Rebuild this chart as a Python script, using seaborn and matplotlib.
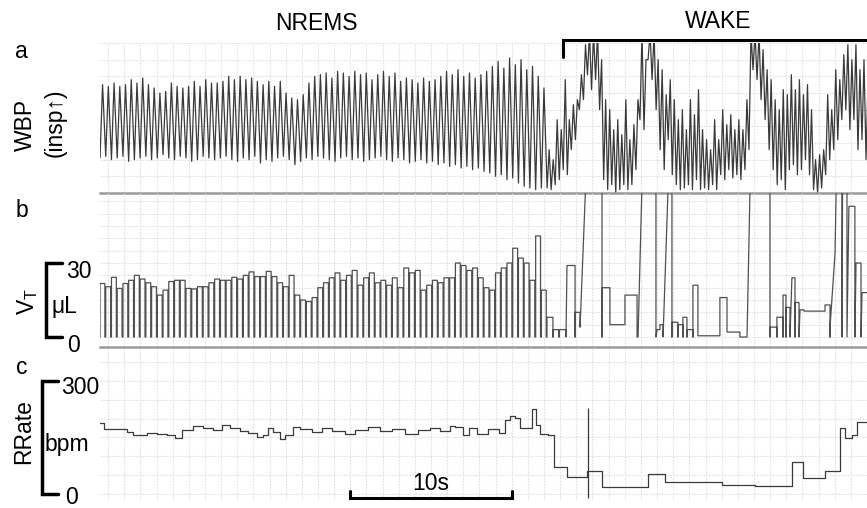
import numpy as np
import matplotlib
matplotlib.use("Agg")
import matplotlib.pyplot as plt
import matplotlib.transforms as mtransforms
import seaborn as sns

# ---- data ----
# NREMS: one entry per breath (regular breathing)
nrem_t0 = -0.5        # s
nrem_period = 0.355   # s per breath
nrem_wbp_peak = [
    6.5, 6.4, 6.6, 6.4, 6.5, 6.8, 6.6, 6.9, 6.5, 6.3,
    6.0, 6.1, 6.6, 6.4, 6.3, 6.4, 6.7, 6.4, 6.8, 6.6,
    6.6, 6.7, 7.0, 6.8, 7.0, 6.8, 6.9, 6.7, 6.5, 6.7,
    6.4, 6.7, 6.0, 5.7, 5.6, 5.9, 6.6, 7.0, 7.1, 7.2,
    6.9, 7.3, 7.2, 7.0, 7.3, 7.1, 7.2, 6.8, 7.1, 7.3,
    7.0, 7.2, 6.7, 6.9, 6.8, 6.6, 6.9, 6.7, 6.8, 7.0,
    7.3, 7.1, 7.4, 7.0, 7.2, 6.9, 7.1, 7.3, 7.6, 7.9,
    7.5, 8.1, 7.7, 8.0, 7.4, 7.6, 7.0, 6.3]
nrem_wbp_trough = [
    2.1, 2.2, 2.0, 2.1, 2.2, 1.9, 2.0, 2.1, 2.2, 2.0,
    2.1, 2.3, 2.1, 2.0, 2.2, 2.1, 1.9, 2.0, 2.2, 2.1,
    2.0, 2.1, 2.2, 2.0, 1.9, 2.1, 2.0, 2.2, 1.8, 2.0,
    1.9, 2.1, 2.2, 2.0, 1.7, 1.9, 2.1, 2.0, 2.2, 2.1,
    2.0, 1.9, 2.1, 2.2, 2.0, 2.1, 1.9, 2.0, 2.1, 2.2,
    2.0, 1.9, 2.1, 2.0, 1.8, 1.9, 2.0, 1.8, 1.9, 1.7,
    1.8, 1.6, 1.7, 1.5, 1.6, 1.4, 1.5, 1.3, 1.2, 1.0,
    1.1, 0.8, 0.9, 0.6, 0.4, 0.3, 0.2, 0.3]
nrem_vt = [
    21.7, 20.4, 24.2, 19.7, 21.7, 23.0, 25.0, 23.5, 22.0, 20.4,
    17.0, 19.0, 22.5, 23.0, 23.0, 19.7, 19.5, 20.4, 20.4, 22.0,
    23.5, 23.0, 23.0, 24.2, 23.5, 25.0, 26.4, 24.5, 24.5, 26.6,
    24.5, 22.0, 20.4, 25.0, 17.0, 15.0, 14.4, 16.0, 20.0, 22.0,
    24.0, 26.0, 23.0, 25.0, 27.0, 21.0, 24.0, 26.0, 22.0, 23.0,
    21.0, 24.0, 20.0, 28.0, 26.0, 27.0, 19.0, 21.0, 23.0, 22.0,
    24.0, 24.0, 30.0, 29.0, 27.0, 28.0, 24.0, 20.0, 19.0, 26.0,
    28.0, 30.0, 36.0, 32.0, 30.0, 23.0, 41.0, 19.0]

# WAKE: WBP one entry per (fast, irregular) cycle
wake_t0 = 27.19
wake_period = 0.25
wake_wbp_peak = [
    2.6, 2.0, 4.4, 3.8, 6.8, 4.4, 5.3, 5.6, 7.1, 8.9,
    9.6, 9.6, 9.6, 8.0, 5.6, 5.0, 3.8, 4.4, 3.5, 5.6,
    3.2, 4.1, 5.6, 9.6, 8.0, 9.6, 9.6, 8.0, 7.4, 5.9,
    6.8, 5.6, 4.4, 5.0, 3.8, 5.6, 4.7, 6.2, 3.8, 3.2,
    2.6, 4.4, 3.2, 5.0, 4.1, 4.7, 3.8, 4.4, 3.8, 5.6,
    9.6, 9.6, 9.6, 8.6, 7.4, 6.8, 5.6, 5.0, 6.2, 5.9,
    7.1, 6.2, 6.8, 5.9, 6.5, 5.0, 2.0, 2.3, 2.6, 5.9,
    5.0, 7.4, 6.8, 8.3, 8.9, 8.0, 8.9, 7.4, 8.0, 6.8]
wake_wbp_trough = [
    0.3, 0.2, 0.5, 0.8, 1.4, 1.1, 2.6, 3.2, 5.0, 5.6,
    7.1, 6.2, 6.8, 5.0, 0.8, 0.2, 0.5, 0.0, 0.2, 0.5,
    0.2, 0.5, 1.4, 4.4, 3.8, 8.0, 6.8, 5.0, 2.6, 1.4,
    3.2, 1.1, 0.5, 0.2, 0.3, 0.5, 0.2, 0.8, 0.2, 0.3,
    0.2, 0.5, 0.2, 1.1, 0.8, 1.4, 0.9, 1.1, 0.8, 1.4,
    2.6, 7.4, 6.8, 5.6, 4.4, 2.6, 1.4, 0.5, 0.8, 0.2,
    1.4, 1.7, 1.1, 1.4, 2.0, 1.1, 0.2, 0.0, 0.3, 1.1,
    2.0, 2.6, 3.2, 4.4, 5.0, 3.8, 4.4, 2.6, 3.2, 2.0]

# WAKE: VT trace vertices (s, uL); big breaths run off scale
wake_vt_time = [
    27.18, 27.18, 27.55, 27.55, 27.55, 27.93, 27.93, 27.93, 28.36, 28.36,
    28.42, 28.92, 28.92, 28.92, 29.23, 29.23, 30.59, 30.59, 30.59, 31.08,
    31.08, 32.01, 32.01, 32.76, 32.76, 32.82, 33.93, 33.93, 34.00, 34.18,
    34.18, 34.37, 34.37, 34.92, 34.92, 34.92, 35.29, 35.29, 35.29, 35.60,
    35.60, 35.60, 35.85, 35.85, 35.85, 36.22, 36.22, 36.22, 36.53, 36.53,
    37.89, 37.89, 38.33, 38.33, 39.13, 39.13, 39.57, 40.99, 40.99, 40.99,
    41.42, 41.42, 41.42, 41.80, 41.80, 41.80, 41.98, 41.98, 41.98, 42.23,
    42.23, 42.35, 42.54, 42.54, 42.54, 42.79, 42.79, 42.85, 43.10, 43.10,
    44.40, 44.40, 44.71, 44.71, 44.71, 45.02, 45.20, 45.20, 45.45, 45.45,
    45.51, 45.76, 45.76, 45.88, 46.25, 46.25, 46.32, 46.63, 46.63, 46.69,
    47.00]
wake_vt_val = [
    0, 8, 8, 0, 3, 3, 0, 3, 3, 0,
    29, 29, 0, 10, 10, 4, 230, 0, 20, 20,
    5, 5, 17, 17, 0, 0, 280, 0, 3, 3,
    5, 5, 0, 107, 0, 6, 6, 0, 5, 5,
    0, 8, 8, 0, 3, 3, 0, 21, 21, 0.5,
    0.5, 16, 16, 2, 2, 0, 0, 460, 0, 4,
    4, 0, 8, 8, 0, 17, 17, 0, 12, 12,
    0, 24, 24, 0, 14, 14, 0, 11, 11, 10.5,
    10.5, 13, 13, 0, 4, 34, 100, 100, 100, 0,
    100, 100, 0, 53, 53, 0, 30, 30, 0, 18,
    18]

# respiratory rate, step trace (start time s, bpm)
rr_time = [
    -0.50, -0.25, 1.18, 1.55, 2.41, 3.03, 3.65, 4.15, 4.58, 5.26,
    5.88, 6.50, 7.06, 7.55, 8.17, 8.67, 9.23, 9.60, 9.91, 10.22,
    10.65, 10.96, 11.46, 11.89, 12.63, 13.25, 13.87, 14.67, 15.29, 16.10,
    16.84, 17.59, 18.39, 19.20, 19.94, 20.56, 21.18, 21.49, 21.98, 22.35,
    22.85, 23.53, 24.21, 24.58, 24.89, 25.20, 25.51, 26.25, 26.50, 26.75,
    27.24, 27.62, 28.42, 29.66, 30.59, 33.44, 34.49, 36.47, 38.02, 40.06,
    42.35, 43.03, 44.40, 45.33, 45.63, 46.07, 46.38, 47.00]
rr_bpm = [
    188, 172, 165, 157, 162, 160, 157, 148, 170, 180,
    174, 170, 183, 176, 168, 162, 152, 157, 175, 165,
    145, 157, 178, 172, 165, 175, 168, 160, 170, 178,
    166, 172, 160, 170, 175, 168, 180, 178, 157, 176,
    160, 172, 162, 197, 207, 202, 176, 225, 183, 159,
    157, 72, 45, 62, 19, 53, 32, 31, 24, 21,
    85, 43, 61, 175, 149, 157, 191, 191]
rr_marker_time = 29.72
rr_marker_range = [-10, 228]

wake_onset = 28.17     # s, start of WAKE bracket
scale_bar = [15, 25]   # s

# ---- build traces ----
t_nrem = nrem_t0 + nrem_period * np.arange(len(nrem_wbp_peak))
t_wake = wake_t0 + wake_period * np.arange(len(wake_wbp_peak))
wbp_t, wbp_v = [], []
for t, lo, hi in zip(t_nrem, nrem_wbp_trough, nrem_wbp_peak):
    wbp_t += [t, t + 0.45 * nrem_period]
    wbp_v += [lo, hi]
for t, lo, hi in zip(t_wake, wake_wbp_trough, wake_wbp_peak):
    wbp_t += [t, t + 0.5 * wake_period]
    wbp_v += [lo, hi]

vt_t, vt_v = [], []
for t, v in zip(t_nrem, nrem_vt):
    t1 = t + 0.85 * nrem_period
    vt_t += [t, t, t1, t1]
    vt_v += [0, v, v, 0]
vt_t += wake_vt_time
vt_v += wake_vt_val

# ---- figure ----
sns.set_theme(style="white")
plt.rcParams["font.family"] = ["Liberation Sans", "DejaVu Sans"]
plt.rcParams["mathtext.fontset"] = "custom"
plt.rcParams["mathtext.rm"] = "Liberation Sans"

W, H = 867, 508
fig = plt.figure(figsize=(W / 100, H / 100), dpi=100)

def fx(px):
    return px / W

def fy(py):
    return 1 - py / H

left, width = fx(100), 1 - fx(100)
ax_a = fig.add_axes([left, fy(193), width, (193 - 43) / H])
ax_b = fig.add_axes([left, fy(347), width, (347 - 193) / H])
ax_c = fig.add_axes([left, fy(500), width, (500 - 347) / H])

trace_col = "#3a3a3a"
sns.lineplot(x=wbp_t, y=wbp_v, sort=False, estimator=None, ax=ax_a,
             color=trace_col, linewidth=0.9)
sns.lineplot(x=vt_t, y=vt_v, sort=False, estimator=None, ax=ax_b,
             color="#505050", linewidth=0.9)
sns.lineplot(x=rr_time, y=rr_bpm, sort=False, estimator=None, ax=ax_c,
             color=trace_col, linewidth=0.9, drawstyle="steps-post")
ax_c.vlines(rr_marker_time, rr_marker_range[0], rr_marker_range[1],
            color=trace_col, linewidth=0.9)

ax_a.set_ylim(0, 9)
ax_b.set_ylim(-4.05, 58.4)
ax_c.set_ylim(-16, 390)
yt = {ax_a: np.arange(0, 10, 1), ax_b: np.arange(0, 60, 5),
      ax_c: np.arange(0, 400, 50)}
for ax in (ax_a, ax_b, ax_c):
    ax.set_xlim(-0.5, 47.0)
    ax.set_xticks(np.arange(0, 48))
    ax.set_yticks(yt[ax])
    ax.grid(True, color="#e0e0e0", linestyle=(0, (1.5, 1.2)), linewidth=0.8)
    ax.set_axisbelow(True)
    ax.tick_params(length=0, labelbottom=False, labelleft=False)
    ax.set_xlabel("")
    ax.set_ylabel("")
    ax.set_facecolor("none")
    for s in ax.spines.values():
        s.set_visible(False)
for ax in (ax_a, ax_b):
    ax.spines["bottom"].set_visible(True)
    ax.spines["bottom"].set_color("#9a9a9a")
    ax.spines["bottom"].set_linewidth(1.8)

fs = 16.5
txt = dict(color="black", fontsize=fs, ha="center", va="center")

# state labels and WAKE bracket
fig.text(fx(316), fy(24), "NREMS", **txt)
fig.text(fx(718), fy(22), "WAKE", **txt)
tr_top = mtransforms.blended_transform_factory(ax_a.transData, fig.transFigure)
ax_a.plot([wake_onset, wake_onset, 48], [fy(57), fy(39.5), fy(39.5)],
          color="black", lw=2.2, transform=tr_top, clip_on=False,
          solid_joinstyle="miter")

# panel letters and axis labels
fig.text(fx(21), fy(52), "a", **txt)
fig.text(fx(22), fy(211), "b", **txt)
fig.text(fx(22), fy(368), "c", **txt)
fig.text(fx(25.5), fy(124.5), "WBP", rotation=90, **txt)
fig.text(fx(55), fy(123), "(insp\u2191)", rotation=90, **txt)
fig.text(fx(28), fy(302), r"$\mathregular{V_T}$", rotation=90, **txt)
fig.text(fx(24), fy(432), "RRate", rotation=90, **txt)

# VT scale bracket
tr_b = mtransforms.blended_transform_factory(fig.transFigure, ax_b.transData)
ax_b.plot([fx(62), fx(46), fx(46), fx(62)], [30, 30, 0, 0], color="black",
          lw=2.5, transform=tr_b, clip_on=False, solid_joinstyle="miter")
fig.text(fx(79), fy(271), "30", **txt)
fig.text(fx(64), fy(306), "\u03bcL", **txt)
fig.text(fx(73), fy(345), "0", **txt)

# RRate scale bracket
tr_c = mtransforms.blended_transform_factory(fig.transFigure, ax_c.transData)
ax_c.plot([fx(58), fx(41.5), fx(41.5), fx(58)], [300, 300, 0, 0], color="black",
          lw=2.5, transform=tr_c, clip_on=False, solid_joinstyle="miter")
fig.text(fx(80), fy(388), "300", **txt)
fig.text(fx(67), fy(445), "bpm", **txt)
fig.text(fx(72), fy(497), "0", **txt)

# 10 s scale bar
tr_s = mtransforms.blended_transform_factory(ax_c.transData, ax_c.transAxes)
y0 = (500 - 497.7) / 153
y1 = (500 - 491) / 153
ax_c.plot([scale_bar[0], scale_bar[0], scale_bar[1], scale_bar[1]],
          [y1, y0, y0, y1], color="black", lw=2.2, transform=tr_s,
          clip_on=False, solid_joinstyle="miter")
ax_c.text(np.mean(scale_bar), (500 - 484) / 153, "10s", transform=tr_s,
          **txt)

fig.savefig("out.png", dpi=100, facecolor="white")
